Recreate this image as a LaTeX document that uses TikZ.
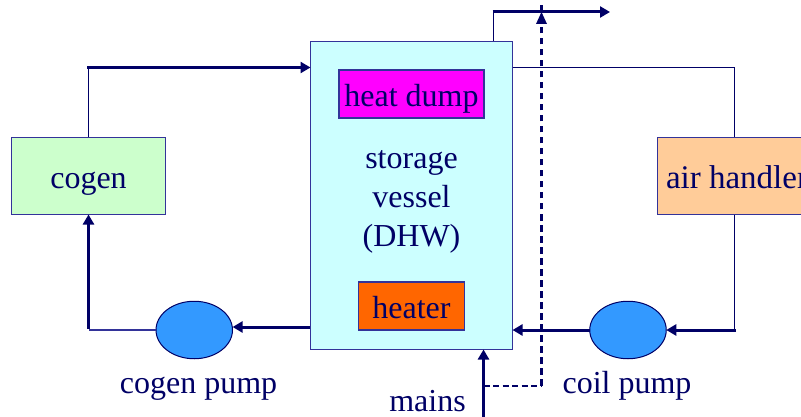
\documentclass[tikz,border=0pt]{standalone}
\usepackage{fontspec}
\setmainfont{Liberation Serif}
\usetikzlibrary{arrows.meta,shapes.geometric}
\definecolor{navy}{HTML}{000066}
\definecolor{edgeblue}{HTML}{333399}
\definecolor{tankfill}{HTML}{CCFFFF}
\definecolor{cogenfill}{HTML}{CCFFCC}
\definecolor{dumpfill}{HTML}{FF00FF}
\definecolor{heaterfill}{HTML}{FF6600}
\definecolor{airfill}{HTML}{FFCC99}
\definecolor{pumpfill}{HTML}{3399FF}
\tikzset{
  box/.style={draw=edgeblue,line width=1.1pt,inner sep=0pt,outer sep=0pt,text=navy,font=\fontsize{32}{39}\selectfont,align=center},
  pumpshape/.style={ellipse,draw=navy,line width=1pt,fill=pumpfill,minimum width=76.5pt,minimum height=57.5pt,inner sep=0pt,outer sep=0pt},
  lbl/.style={text=navy,font=\fontsize{32}{39}\selectfont,inner sep=0pt,outer sep=0pt,anchor=base,align=center},
  thin pipe/.style={draw=navy,line width=1pt},
  mid pipe/.style={draw=edgeblue,line width=1.5pt},
  thick pipe/.style={draw=navy,line width=3pt},
  flow/.style={thick pipe,-{Triangle[length=10pt,width=11pt]}},
  dash pipe/.style={draw=navy,line width=3pt,dash pattern=on 6.5pt off 4.5pt},
}
\begin{document}
\begin{tikzpicture}[x=1pt,y=-1pt]
\clip (0,0) rectangle (801,417);
\useasboundingbox (0,0) rectangle (801,417);
\fill[white] (0,0) rectangle (801,417);
% boxes
\node[box,fill=tankfill,minimum width=202pt,minimum height=308pt] (tank) at (411.5,195.5) {};
\node[box,fill=cogenfill,minimum width=154pt,minimum height=77pt] (cogen) at (88.5,176) {};
\node[lbl] (cogent) at (88.5,188.5) {cogen};
\node[box,fill=airfill,minimum width=154pt,minimum height=77pt] (air) at (734.5,176) {};
\node[lbl,font=\fontsize{33}{39}\selectfont] (airt) at (737,188.5) {air handler};
\node[box,fill=dumpfill,minimum width=145pt,minimum height=48pt] (dump) at (411.5,94) {};
\node[lbl] (dumpt) at (411.5,106.5) {heat dump};
\node[box,fill=heaterfill,minimum width=106pt,minimum height=48pt] (heater) at (411.5,306) {};
\node[lbl] (heatert) at (411.5,318.5) {heater};
\node[lbl] (s1) at (411.5,168.5) {storage};
\node[lbl] (s2) at (411.5,207.5) {vessel};
\node[lbl] (s3) at (411.5,246.5) {(DHW)};
% pumps
\node[pumpshape] (cp) at (194.25,330) {};
\node[pumpshape] (ap) at (628,330) {};
\node[lbl] (cpt) at (198.5,393) {cogen pump};
\node[lbl] (apt) at (627,393) {coil pump};
\node[lbl] (mt) at (427.5,411) {mains};
% named points
\coordinate (c1) at (88.5,67.5);
\coordinate (t1) at (tank.west |- c1);
\coordinate (t2) at (tank.east |- c1);
\coordinate (a1) at (air.north |- c1);
\coordinate (a2) at (air.south |- ap);
\coordinate (c2) at (cogen.south |- cp);
\coordinate (t3) at (tank.east |- ap);
\coordinate (t4) at (310,327);
\coordinate (p4) at (232.6,327);
\coordinate (v1) at (493,41);
\coordinate (v2) at (493,12);
\coordinate (v3) at (610,12);
\coordinate (v4) at (541.5,12);
\coordinate (m0) at (483.5,417);
\coordinate (m1) at (483.5,385.5);
\coordinate (m2) at (541.5,385.5);
\coordinate (m3) at (483.5,349.5);
% connectors
\draw[thin pipe] (cogen.north) -- (c1);
\draw[flow] ([xshift=-1.5pt]c1) -- (t1);
\draw[thin pipe] (t2) -- (a1) -- (air.north);
\draw[thin pipe] (air.south) -- (a2);
\draw[flow] ([xshift=1.5pt]a2) -- (ap.east);
\draw[flow] (ap.west) -- (t3);
\draw[flow] (t4) -- (p4);
\draw[mid pipe] (cp.west) -- (c2);
\draw[flow] ([yshift=1.5pt]c2) -- (cogen.south);
\draw[thin pipe] (v1) -- (v2);
\draw[flow] ([xshift=-.5pt]v2) -- (v3);
\draw[flow] (m0) -- (m3);
\draw[draw=navy,line width=2pt,dash pattern=on 6pt off 3.5pt] (m1) -- (m2);
\draw[dash pipe] (m2) -- ([yshift=11pt]v4);
\fill[navy] (v4) -- ++(5.5,12) -- ++(-11,0) -- cycle;
\end{tikzpicture}
\end{document}
